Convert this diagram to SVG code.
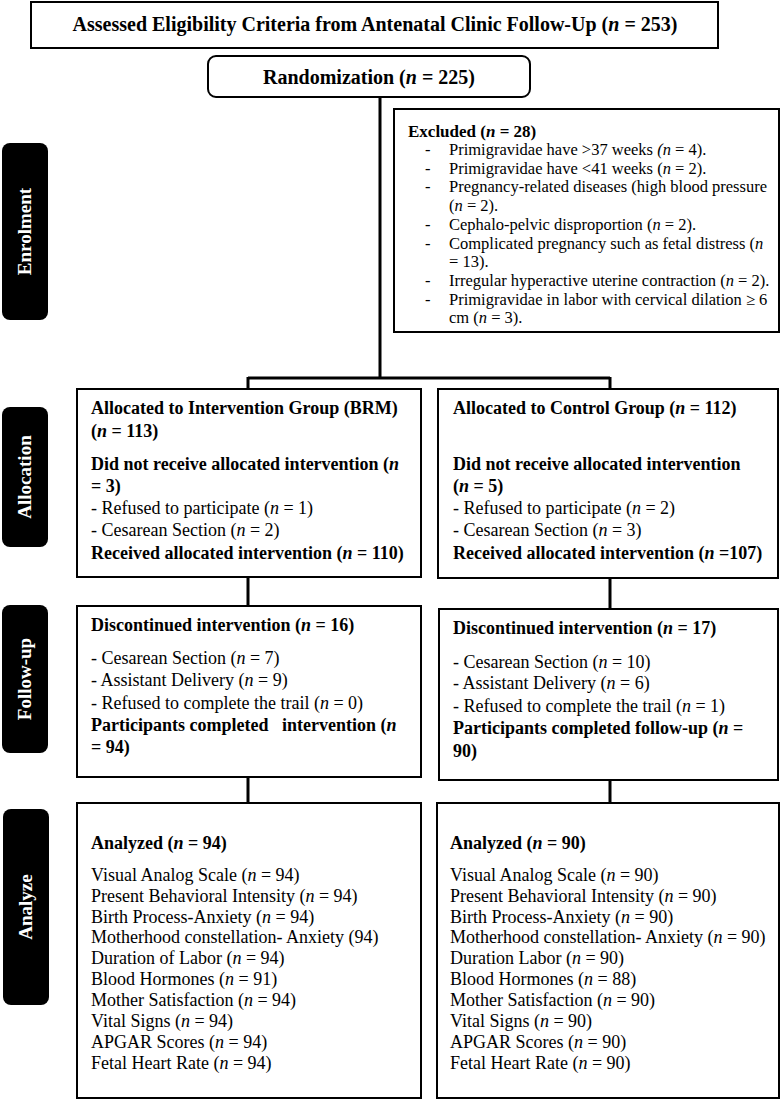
<svg xmlns="http://www.w3.org/2000/svg" width="784" height="1102" viewBox="0 0 784 1102">
<style>
.box{fill:#fff;stroke:#000;stroke-width:2}
.lbl{fill:#000}
.lt{font-family:"Liberation Serif","Times New Roman",serif;font-weight:bold;font-size:19px;fill:#fff;text-anchor:middle}
.t{font-family:"Liberation Serif","Times New Roman",serif;font-weight:bold;font-size:20px;fill:#000;text-anchor:middle}
.b{font-family:"Liberation Serif","Times New Roman",serif;font-weight:bold;font-size:18px;fill:#000}
.r{font-family:"Liberation Serif","Times New Roman",serif;font-size:18px;fill:#000}
.s{font-family:"Liberation Serif","Times New Roman",serif;font-size:16.5px;fill:#000}
.sb{font-family:"Liberation Serif","Times New Roman",serif;font-size:17px;font-weight:bold;fill:#000}
.i{font-style:italic}
.c{fill:none;stroke:#000;stroke-width:3}
</style>
<g id="connectors">
<path class="c" d="M380 97 V378 M248 378 H610 M248 377 V389 M610 377 V389 M248 577 V606 M610 578 V609 M248 777 V803 M610 780 V803"/>
</g>
<g id="label-enrolment"><rect class="lbl" x="2" y="143" width="46" height="177" rx="8"/><text class="lt" transform="translate(31 231.5) rotate(-90)">Enrolment</text></g>
<g id="label-allocation"><rect class="lbl" x="2" y="407" width="46" height="140" rx="8"/><text class="lt" transform="translate(31 477) rotate(-90)">Allocation</text></g>
<g id="label-followup"><rect class="lbl" x="2" y="605" width="46" height="148" rx="8"/><text class="lt" transform="translate(31 679) rotate(-90)">Follow-up</text></g>
<g id="label-analyze"><rect class="lbl" x="3" y="809" width="46" height="196" rx="8"/><text class="lt" transform="translate(32 907) rotate(-90)">Analyze</text></g>
<g id="assessed"><rect class="box" x="31" y="2" width="687" height="46"/><text class="t" x="375" y="31">Assessed Eligibility Criteria from Antenatal Clinic Follow-Up (<tspan class="i">n</tspan> = 253)</text></g>
<g id="randomization"><rect class="box" x="208" y="56" width="322" height="41" rx="8"/><text class="t" x="369" y="84">Randomization (<tspan class="i">n</tspan> = 225)</text></g>
<g id="excluded"><rect class="box" x="394" y="109" width="385" height="223"/>
<text class="sb" x="408" y="137">Excluded (<tspan class="i">n</tspan> = 28)</text>
<g class="s">
<text x="425" y="155">-</text><text x="449" y="155">Primigravidae have &gt;37 weeks <tspan class="i">(n</tspan> = 4).</text>
<text x="425" y="174">-</text><text x="449" y="174">Primigravidae have &lt;41 weeks (<tspan class="i">n</tspan> = 2).</text>
<text x="425" y="192">-</text><text x="449" y="192">Pregnancy-related diseases (high blood pressure</text>
<text x="449" y="211">(<tspan class="i">n</tspan> = 2).</text>
<text x="425" y="230">-</text><text x="449" y="230">Cephalo-pelvic disproportion (<tspan class="i">n</tspan> = 2).</text>
<text x="425" y="249">-</text><text x="449" y="249">Complicated pregnancy such as fetal distress (<tspan class="i">n</tspan></text>
<text x="449" y="267">= 13).</text>
<text x="425" y="286">-</text><text x="449" y="286">Irregular hyperactive uterine contraction (<tspan class="i">n</tspan> = 2).</text>
<text x="425" y="305">-</text><text x="449" y="305">Primigravidae in labor with cervical dilation ≥ 6</text>
<text x="449" y="323">cm (<tspan class="i">n</tspan> = 3).</text>
</g></g>
<g id="alloc-int"><rect class="box" x="77" y="389" width="344" height="188"/>
<text class="b" x="91" y="414">Allocated to Intervention Group (BRM)</text>
<text class="b" x="91" y="437">(<tspan class="i">n</tspan> = 113)</text>
<text class="b" x="91" y="470">Did not receive allocated intervention (<tspan class="i">n</tspan></text>
<text class="b" x="91" y="492">= 3)</text>
<text class="r" x="91" y="514">- Refused to participate (<tspan class="i">n</tspan> = 1)</text>
<text class="r" x="91" y="536">- Cesarean Section (<tspan class="i">n</tspan> = 2)</text>
<text class="b" x="91" y="559">Received allocated intervention (<tspan class="i">n</tspan> = 110)</text>
</g>
<g id="alloc-ctl"><rect class="box" x="438" y="389" width="340" height="189"/>
<text class="b" x="453" y="414">Allocated to Control Group (<tspan class="i">n</tspan> = 112)</text>
<text class="b" x="453" y="470">Did not receive allocated intervention</text>
<text class="b" x="453" y="492">(<tspan class="i">n</tspan> = 5)</text>
<text class="r" x="453" y="514">- Refused to participate (<tspan class="i">n</tspan> = 2)</text>
<text class="r" x="453" y="536">- Cesarean Section (<tspan class="i">n</tspan> = 3)</text>
<text class="b" x="453" y="559">Received allocated intervention (<tspan class="i">n</tspan> =107)</text>
</g>
<g id="follow-int"><rect class="box" x="77" y="606" width="344" height="171"/>
<text class="b" x="91" y="631">Discontinued intervention (<tspan class="i">n</tspan> = 16)</text>
<text class="r" x="91" y="664">- Cesarean Section (<tspan class="i">n</tspan> = 7)</text>
<text class="r" x="91" y="686">- Assistant Delivery (<tspan class="i">n</tspan> = 9)</text>
<text class="r" x="91" y="709">- Refused to complete the trail (<tspan class="i">n</tspan> = 0)</text>
<text class="b" x="91" y="731" xml:space="preserve">Participants completed   intervention (<tspan class="i">n</tspan></text>
<text class="b" x="91" y="753">= 94)</text>
</g>
<g id="follow-ctl"><rect class="box" x="439" y="609" width="339" height="171"/>
<text class="b" x="453" y="634">Discontinued intervention (<tspan class="i">n</tspan> = 17)</text>
<text class="r" x="453" y="668">- Cesarean Section (<tspan class="i">n</tspan> = 10)</text>
<text class="r" x="453" y="689">- Assistant Delivery (<tspan class="i">n</tspan> = 6)</text>
<text class="r" x="453" y="712">- Refused to complete the trail (<tspan class="i">n</tspan> = 1)</text>
<text class="b" x="453" y="734">Participants completed follow-up (<tspan class="i">n</tspan> =</text>
<text class="b" x="453" y="757">90)</text>
</g>
<g id="analyze-int"><rect class="box" x="77" y="803" width="344" height="295"/>
<text class="b" x="91" y="849">Analyzed (<tspan class="i">n</tspan> = 94)</text>
<g class="r">
<text x="91" y="881">Visual Analog Scale (<tspan class="i">n</tspan> = 94)</text>
<text x="91" y="902">Present Behavioral Intensity (<tspan class="i">n</tspan> = 94)</text>
<text x="91" y="923">Birth Process-Anxiety (<tspan class="i">n</tspan> = 94)</text>
<text x="91" y="943">Motherhood constellation- Anxiety (94)</text>
<text x="91" y="964">Duration of Labor (<tspan class="i">n</tspan> = 94)</text>
<text x="91" y="985">Blood Hormones (<tspan class="i">n</tspan> = 91)</text>
<text x="91" y="1006">Mother Satisfaction (<tspan class="i">n</tspan> = 94)</text>
<text x="91" y="1027">Vital Signs (<tspan class="i">n</tspan> = 94)</text>
<text x="91" y="1048">APGAR Scores (<tspan class="i">n</tspan> = 94)</text>
<text x="91" y="1069">Fetal Heart Rate (<tspan class="i">n</tspan> = 94)</text>
</g></g>
<g id="analyze-ctl"><rect class="box" x="437" y="803" width="342" height="295"/>
<text class="b" x="450" y="849">Analyzed (<tspan class="i">n</tspan> = 90)</text>
<g class="r">
<text x="450" y="881">Visual Analog Scale (<tspan class="i">n</tspan> = 90)</text>
<text x="450" y="902">Present Behavioral Intensity (<tspan class="i">n</tspan> = 90)</text>
<text x="450" y="923">Birth Process-Anxiety (<tspan class="i">n</tspan> = 90)</text>
<text x="450" y="943">Motherhood constellation- Anxiety (<tspan class="i">n</tspan> = 90)</text>
<text x="450" y="964">Duration Labor (<tspan class="i">n</tspan> = 90)</text>
<text x="450" y="985">Blood Hormones (<tspan class="i">n</tspan> = 88)</text>
<text x="450" y="1006">Mother Satisfaction (<tspan class="i">n</tspan> = 90)</text>
<text x="450" y="1027">Vital Signs (<tspan class="i">n</tspan> = 90)</text>
<text x="450" y="1048">APGAR Scores (<tspan class="i">n</tspan> = 90)</text>
<text x="450" y="1069">Fetal Heart Rate (<tspan class="i">n</tspan> = 90)</text>
</g></g>
</svg>
